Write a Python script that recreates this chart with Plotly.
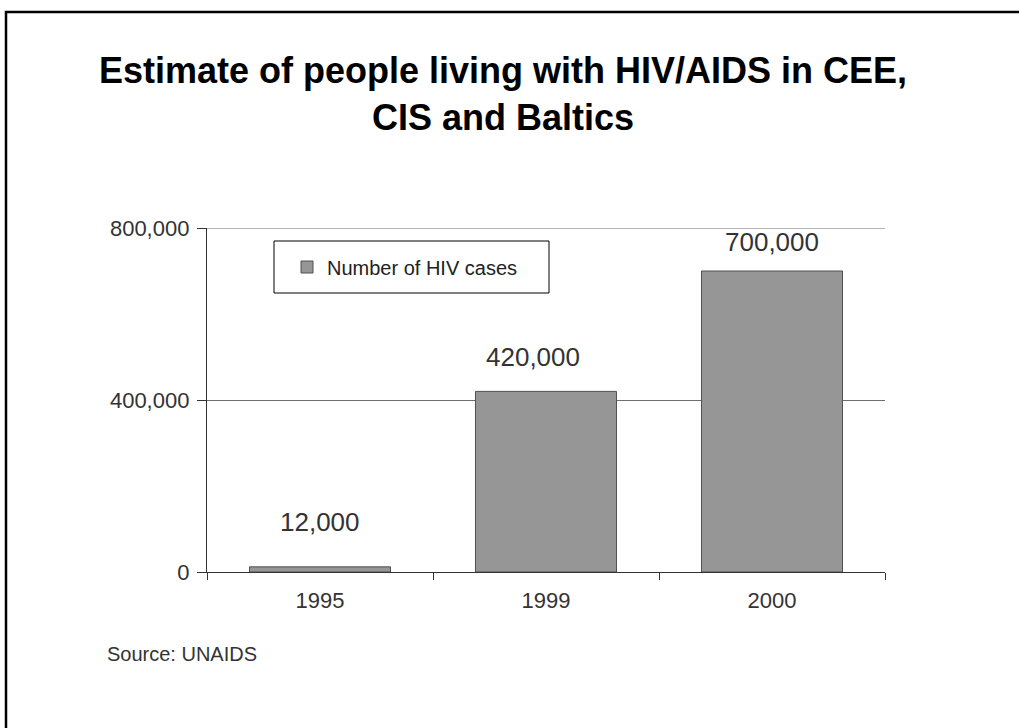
import plotly.graph_objects as go

# ---- data ----
years = ["1995", "1999", "2000"]
hiv_cases = [12000, 420000, 700000]
value_labels = ["12,000", "420,000", "700,000"]
label_yshift = [28, 17, 12]
label_xshift = [0, -13, 0]
y_ticks = [0, 400000, 800000]
y_tick_text = ["0", "400,000", "800,000"]
series_name = "Number of HIV cases"
title_text = "Estimate of people living with HIV/AIDS in CEE,<br>CIS and Baltics"
source_text = "Source: UNAIDS"

FONT = "Liberation Sans, Arial, sans-serif"
W, H = 1019, 728
L, R, T, B = 207, 134, 228, 156
PW, PH = W - L - R, H - T - B
GRID = "#6e6e6e"

def px(x):
    return (x - L) / PW

def py(y):
    return (H - B - y) / PH

fig = go.Figure()
fig.add_trace(go.Bar(
    x=years, y=hiv_cases, name=series_name,
    marker=dict(color="#969696", line=dict(color="#505050", width=1)),
    showlegend=True, hoverinfo="x+y",
))

annotations = []
for i, (v, lab, ys, xs) in enumerate(zip(hiv_cases, value_labels, label_yshift, label_xshift)):
    annotations.append(dict(
        x=i, y=v, xref="x", yref="y", text=lab, showarrow=False,
        yanchor="bottom", xanchor="center", yshift=ys, xshift=xs,
        font=dict(family=FONT, size=26, color="#333333"),
    ))
annotations.append(dict(
    x=px(105), y=py(654), xref="paper", yref="paper", text=source_text,
    showarrow=False, xanchor="left", yanchor="middle",
    font=dict(family=FONT, size=20, color="#333333"),
))

shapes = [
    # outer frame
    dict(type="rect", xref="paper", yref="paper",
         x0=px(6), x1=px(1040), y0=py(760), y1=py(12),
         line=dict(color="black", width=2.5), fillcolor="rgba(0,0,0,0)", layer="below"),
    # legend frame
    dict(type="rect", xref="paper", yref="paper",
         x0=px(274), x1=px(549), y0=py(293), y1=py(241),
         line=dict(color="black", width=1), fillcolor="white", layer="below"),
    # top gridline (plotly drops gridlines at the very edge of the plot area)
    dict(type="line", xref="paper", yref="y", x0=0, x1=1,
         y0=y_ticks[-1], y1=y_ticks[-1], line=dict(color=GRID, width=1), layer="below"),
]

fig.update_layout(
    width=W, height=H,
    margin=dict(l=L, r=R, t=T, b=B, pad=0),
    paper_bgcolor="white", plot_bgcolor="white",
    font=dict(family=FONT, color="#333333"),
    title=dict(text=title_text, x=503 / W, xanchor="center", xref="container",
               y=1 - 83 / H, yanchor="top", yref="container",
               font=dict(family=FONT, size=36, color="black", weight="bold")),
    bargap=0.376,
    showlegend=True,
    legend=dict(x=px(405), y=py(267), xanchor="center", yanchor="middle",
                bgcolor="rgba(0,0,0,0)", borderwidth=0,
                font=dict(family=FONT, size=20, color="#222222")),
    annotations=annotations,
    shapes=shapes,
)

fig.update_xaxes(
    type="category", range=[-0.5, 2.5], showline=True, linecolor="#333333", linewidth=1.3,
    ticks="outside", ticklen=7, tickcolor="#333333", tickwidth=1.3,
    tickson="boundaries", showgrid=False,
    tickfont=dict(family=FONT, size=22, color="#333333"),
    ticklabelstandoff=8,
)
fig.update_yaxes(
    range=[0, 800000], tickvals=y_ticks, ticktext=y_tick_text,
    showline=True, linecolor="#333333", linewidth=1.3,
    ticks="outside", ticklen=9, tickcolor="#333333", tickwidth=1.3,
    showgrid=True, gridcolor=GRID, gridwidth=1, zeroline=False,
    tickfont=dict(family=FONT, size=22, color="#333333"),
    ticklabelstandoff=3,
)

fig.write_html("out.html", config={"displayModeBar": False},
               post_script="document.body.style.margin='0px';")
